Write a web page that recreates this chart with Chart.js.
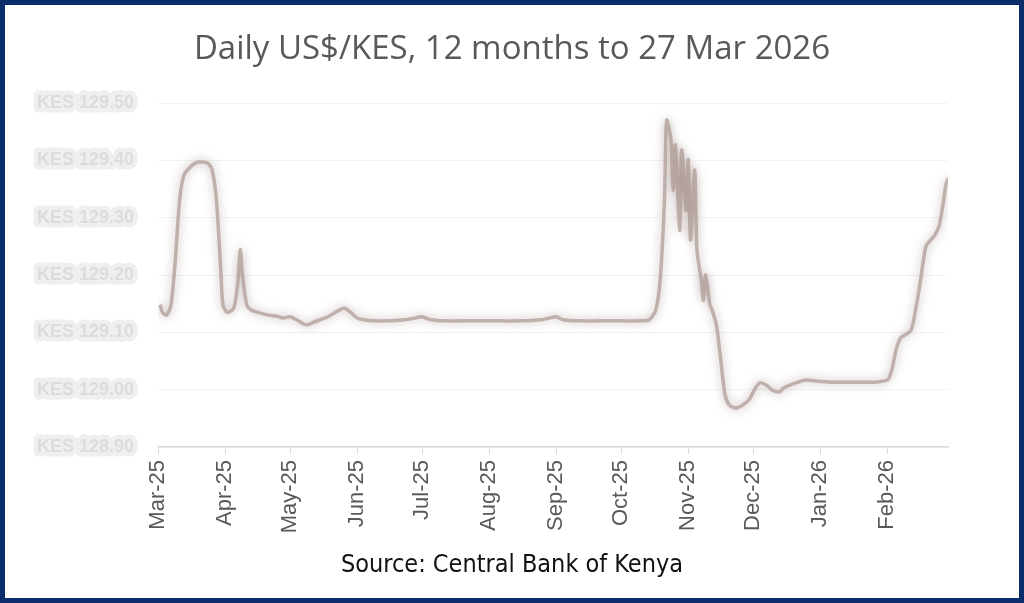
<!DOCTYPE html>
<html>
<head>
<meta charset="utf-8">
<script src="https://cdn.jsdelivr.net/npm/chart.js@4.4.1/dist/chart.umd.min.js"></script>
<style>
  html, body { margin: 0; padding: 0; background: #fff; }
  #wrap { position: relative; width: 1024px; height: 603px; overflow: hidden; }
  #frame { position: absolute; left: 0; top: 0; width: 1024px; height: 603px; box-sizing: border-box;
           border: 5px solid #0b2d6b; pointer-events: none; }
  #title { position: absolute; left: 0; top: 25px; width: 1024px; text-align: center;
           font-family: "Open Sans", sans-serif; font-size: 33px; color: #595959; line-height: 44px; }
  #source { position: absolute; left: 0; top: 548px; width: 1024px; text-align: center;
            font-family: "Liberation Sans Narrow", "DejaVu Sans Condensed", sans-serif; font-stretch: condensed;
            font-size: 25px; color: #111; line-height: 32px; }
  #chart { position: absolute; left: 0; top: 0; }
</style>
</head>
<body>
<div id="wrap">
  <canvas id="chart" width="1024" height="603"></canvas>
  <div id="title">Daily US$/KES, 12 months to 27 Mar 2026</div>
  <div id="source">Source: Central Bank of Kenya</div>
  <div id="frame"></div>
</div>
<script>
// days counted from 27 Mar 2025
const days = [
  1, 2, 4, 6, 8, 10, 12, 16, 19, 23, 25, 27, 29, 30, 32, 35, 37, 38, 39, 41,
  43, 47, 51, 55, 58, 61, 64, 67, 69, 72, 75, 79, 82, 86, 89, 92, 95, 100, 107, 114,
  119, 122, 126, 133, 140, 149, 158, 167, 177, 181, 184, 187, 195, 204, 214, 223, 227,
  230, 232, 234, 235, 237, 238, 239, 241, 242, 244, 245, 246, 248, 249, 251, 252, 253, 255, 256, 258,
  260, 262, 264, 267, 270, 273, 275, 278, 281, 284, 287, 289, 292, 295, 299, 304, 311, 318, 324, 331,
  337, 339, 341, 343, 345, 348, 350, 352, 354, 355, 357, 359, 361, 363, 364, 365
];
// KES per US$
const rates = [
  129.148, 129.135, 129.130, 129.148, 129.226, 129.331, 129.374, 129.392, 129.397, 129.395, 129.383, 129.331, 129.209, 129.148, 129.135, 129.142, 129.191, 129.244, 129.200, 129.148,
  129.139, 129.134, 129.130, 129.128, 129.125, 129.127, 129.122, 129.115, 129.113, 129.118, 129.122, 129.128, 129.135, 129.142, 129.135, 129.125, 129.122, 129.120, 129.120, 129.122,
  129.125, 129.127, 129.122, 129.120, 129.120, 129.120, 129.120, 129.120, 129.122, 129.125, 129.127, 129.122, 129.120, 129.120, 129.120, 129.120, 129.122,
  129.139, 129.191, 129.331, 129.470, 129.435, 129.348, 129.427, 129.278, 129.418, 129.313, 129.401, 129.261, 129.383, 129.244, 129.191, 129.156, 129.200, 129.148, 129.139, 129.113,
  129.052, 128.991, 128.973, 128.968, 128.973, 128.982, 128.996, 129.012, 129.008, 128.999, 128.996, 129.003, 129.008, 129.012, 129.017, 129.015, 129.013, 129.013, 129.013, 129.013,
  129.017, 129.034, 129.069, 129.090, 129.095, 129.104, 129.139, 129.183, 129.235, 129.252, 129.261, 129.270, 129.287, 129.331, 129.357, 129.369
];
const tickDays = [0, 31, 61, 92, 122, 153, 184, 214, 245, 275, 306, 337];
const tickLabels = ['Mar-25', 'Apr-25', 'May-25', 'Jun-25', 'Jul-25', 'Aug-25', 'Sep-25', 'Oct-25', 'Nov-25', 'Dec-25', 'Jan-26', 'Feb-26'];

const points = days.map((d, i) => ({ x: d, y: rates[i] }));

// soft, blurred look of the line and the y labels
const softLine = {
  id: 'softLine',
  beforeDraw(chart) {
    chart.ctx.lineJoin = 'round';
  },
  beforeDatasetsDraw(chart) {
    const ctx = chart.ctx;
    ctx.save();
    ctx.shadowColor = 'rgba(140,118,112,0.8)';
    ctx.shadowBlur = 10;
  },
  afterDatasetsDraw(chart) {
    chart.ctx.restore();
  }
};

const config = {
  type: 'line',
  data: {
    datasets: [{
      label: 'US$/KES',
      data: points,
      borderColor: 'rgba(172,152,147,0.7)',
      borderWidth: 3.5,
      pointRadius: 0,
      tension: 0.25,
      fill: false
    }]
  },
  options: {
    responsive: false,
    animation: false,
    layout: { padding: { left: 20, top: 103, right: 76, bottom: 70 } },
    plugins: {
      legend: { display: false },
      tooltip: { enabled: false }
    },
    scales: {
      x: {
        type: 'linear',
        min: 0,
        max: 365,
        afterBuildTicks: scale => { scale.ticks = tickDays.map(v => ({ value: v })); },
        afterFit: scale => { scale.height = 86; },
        grid: { drawOnChartArea: false, drawTicks: true, tickLength: 7, color: '#d9d9d9' },
        border: { display: true, color: '#d9d9d9', width: 1.5 },
        ticks: {
          autoSkip: false,
          minRotation: 90,
          maxRotation: 90,
          padding: 6,
          color: '#595959',
          font: { family: 'Liberation Sans', size: 22 },
          callback: (v, i) => tickLabels[i]
        }
      },
      y: {
        min: 128.9,
        max: 129.5,
        afterFit: scale => { scale.width = 138; },
        grid: { drawTicks: false, color: '#f3f3f3' },
        border: { display: false },
        ticks: {
          stepSize: 0.1,
          padding: 24,
          color: '#dcdcdc',
          textStrokeColor: '#efefef',
          textStrokeWidth: 9,
          font: { family: 'Liberation Sans', size: 18, weight: 'bold' },
          callback: v => 'KES ' + v.toFixed(2)
        }
      }
    }
  },
  plugins: [softLine]
};

const myChart = new Chart(document.getElementById('chart').getContext('2d'), config);
</script>
</body>
</html>
